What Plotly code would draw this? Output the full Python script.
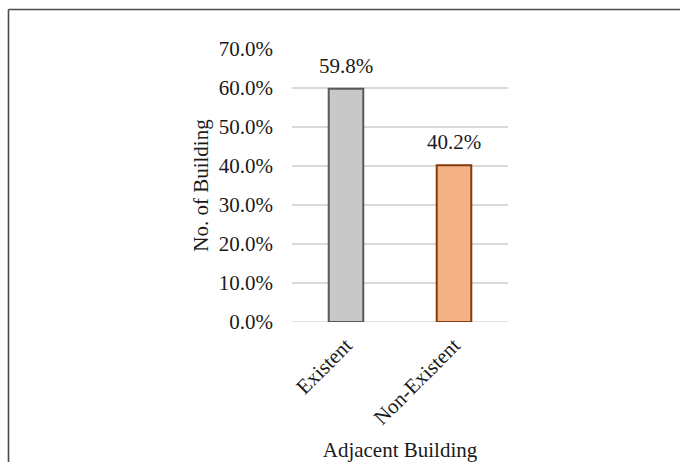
import plotly.graph_objects as go

categories = ["Existent", "Non-Existent"]
values = [0.598, 0.402]
labels = ["59.8%", "40.2%"]
fill_colors = ["#C8C8C8", "#F4B183"]
line_colors = ["#595959", "#843C0C"]
y_ticks = [0.0, 0.1, 0.2, 0.3, 0.4, 0.5, 0.6, 0.7]

FONT = "Liberation Serif, Times New Roman, serif"
FS = 21
W, H = 680, 462
L, R, T, B = 292, 172, 49, 140

fig = go.Figure()
fig.add_trace(go.Bar(
    x=categories, y=values,
    marker=dict(color=fill_colors, line=dict(color=line_colors, width=2)),
    width=0.32,
    hoverinfo="skip",
))

for c, v, t in zip(categories, values, labels):
    fig.add_annotation(x=c, y=v, text=t, showarrow=False, yanchor="bottom",
                       yshift=9, font=dict(family=FONT, size=FS, color="#1a1a1a"))

pw = W - L - R
ph = H - T - B
x0 = (8.5 - L) / pw
y0 = 1 + (T - 9.5) / ph
fig.add_shape(type="line", xref="paper", yref="paper", x0=x0, x1=x0, y0=-1, y1=y0,
              line=dict(color="#4a4a4a", width=1.6))
fig.add_shape(type="line", xref="paper", yref="paper", x0=x0, x1=3, y0=y0, y1=y0,
              line=dict(color="#4a4a4a", width=1.6))

fig.update_layout(
    width=W, height=H,
    margin=dict(l=L, r=R, t=T, b=B, pad=0, autoexpand=False),
    paper_bgcolor="white", plot_bgcolor="white",
    showlegend=False,
    font=dict(family=FONT, size=FS, color="#1a1a1a"),
    xaxis=dict(
        automargin=False,
        tickangle=-45, showgrid=False, zeroline=False, showline=False,
        ticks="", ticklabelstandoff=6, tickfont=dict(family=FONT, size=FS),
        title=dict(text="Adjacent Building", font=dict(family=FONT, size=FS), standoff=14),
    ),
    yaxis=dict(
        automargin=False,
        range=[0, 0.7], tickvals=y_ticks, tickformat=".1%",
        showgrid=True, gridcolor="#D9D9D9", gridwidth=1.6,
        zeroline=False, showline=False, ticks="",
        ticklabelstandoff=18,
        tickfont=dict(family=FONT, size=FS),
        title=dict(text="No. of Building", font=dict(family=FONT, size=FS), standoff=4),
    ),
)
fig.add_shape(type="line", xref="paper", yref="y", x0=0, x1=1, y0=0, y1=0,
              line=dict(color="#D9D9D9", width=1.6), layer="below")

fig.write_html("out.html")
